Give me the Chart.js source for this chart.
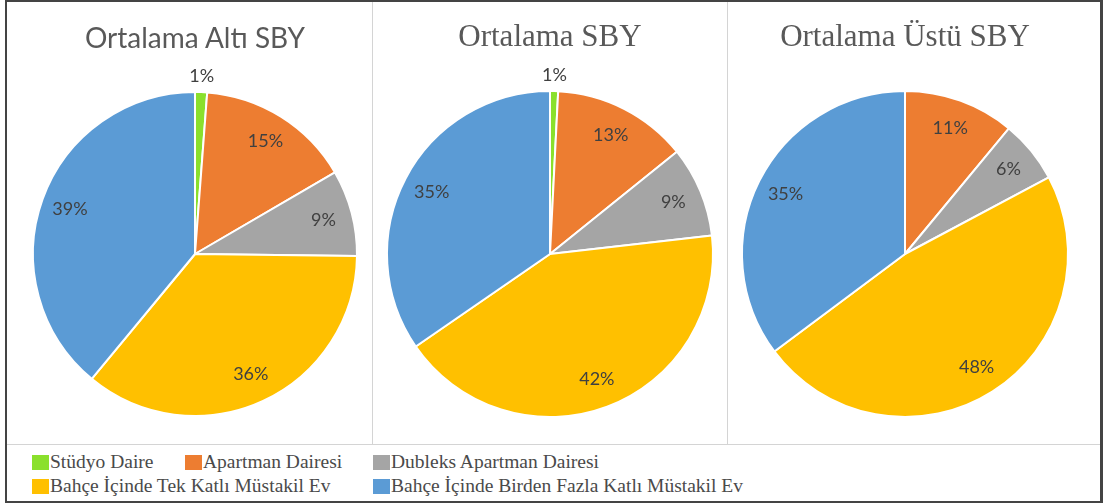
<!DOCTYPE html>
<html>
<head>
<meta charset="utf-8">
<script src="https://cdn.jsdelivr.net/npm/chart.js@4.4.1/dist/chart.umd.min.js"></script>
<style>
  html, body { margin: 0; padding: 0; background: #fff; }
  #page { position: relative; width: 1103px; height: 504px; overflow: hidden; }
  #frame { position: absolute; left: 5px; top: 0; width: 1093px; height: 499px;
    border-top: 2px solid #444; border-left: 2px solid #444; border-right: 3px solid #444; border-bottom: 2px solid #444; }
  .vline { position: absolute; top: 2px; width: 1px; height: 442px; background: #d4d4d4; }
  #hline { position: absolute; left: 7px; top: 444px; width: 1093px; height: 1px; background: #d4d4d4; }
  canvas.pie { position: absolute; }
  .title { position: absolute; top: 0; color: #595959; text-align: center; white-space: nowrap; }
  .legend-item { position: absolute; font-family: "Liberation Serif", "DejaVu Serif", serif; font-size: 19.5px;
    color: #4a4a4a; white-space: nowrap; line-height: 20px; }
  .legend-item i { display: inline-block; width: 17px; height: 15px; vertical-align: -2px; margin-right: 1px; }
</style>
</head>
<body>
<div id="page">
  <div id="frame"></div>
  <div class="vline" style="left:372px"></div>
  <div class="vline" style="left:727px"></div>
  <div id="hline"></div>
  <canvas id="pie1" class="pie"></canvas>
  <canvas id="pie2" class="pie"></canvas>
  <canvas id="pie3" class="pie"></canvas>
  <div id="titles"></div>
  <div id="legend"></div>
</div>
<script>
// categories (clockwise from 12 o'clock)
const categories = [
  'Stüdyo Daire',
  'Apartman Dairesi',
  'Dubleks Apartman Dairesi',
  'Bahçe İçinde Tek Katlı Müstakil Ev',
  'Bahçe İçinde Birden Fazla Katlı Müstakil Ev'
];
const colors = ['#8AE02C', '#ED7D31', '#A5A5A5', '#FFC000', '#5B9BD5'];

const titles = ['Ortalama Altı SBY', 'Ortalama SBY', 'Ortalama Üstü SBY'];

// shares in %
const altiValues  = [1.2, 15.4, 8.6, 35.8, 39.0];
const ortaValues  = [0.8, 13.4, 9.0, 42.2, 34.6];
const ustuValues  = [0.0, 11.0, 6.2, 47.6, 35.2];

// panel geometry: canvas box + pie centre/radius (page px)
const panels = [
  { id: 'pie1', left: 7,   width: 365, cx: 195, cy: 254, r: 162, values: altiValues,
    title: { font: '28px Lato, "Open Sans", sans-serif', baseline: 45 } },
  { id: 'pie2', left: 373, width: 354, cx: 550, cy: 254, r: 163, values: ortaValues,
    title: { font: '31px "Liberation Serif", serif', baseline: 45 } },
  { id: 'pie3', left: 728, width: 372, cx: 905, cy: 254, r: 163, values: ustuValues,
    title: { font: '31px "Liberation Serif", serif', baseline: 45 } }
];
const TOP = 2, HEIGHT = 442;

// percentage labels: inside the slice, tiny slices get pushed outside above
const pctLabels = {
  id: 'pctLabels',
  afterDatasetsDraw(chart) {
    const ctx = chart.ctx;
    const meta = chart.getDatasetMeta(0);
    const data = chart.data.datasets[0].data;
    const total = data.reduce((a, b) => a + b, 0);
    ctx.save();
    ctx.font = '18px Lato, "Open Sans", sans-serif';
    ctx.fillStyle = '#404040';
    ctx.textAlign = 'center';
    ctx.textBaseline = 'middle';
    meta.data.forEach((arc, i) => {
      const v = data[i];
      if (!v) return;
      const pct = v / total * 100;
      const mid = (arc.startAngle + arc.endAngle) / 2;
      const rr = pct < 3 ? arc.outerRadius + 16 : arc.outerRadius * 0.82;
      const x = arc.x + Math.cos(mid) * rr;
      const y = arc.y + Math.sin(mid) * rr;
      ctx.fillText(Math.round(pct) + '%', x, y);
    });
    ctx.restore();
  }
};

panels.forEach(p => {
  const canvas = document.getElementById(p.id);
  canvas.style.left = p.left + 'px';
  canvas.style.top = TOP + 'px';
  canvas.style.width = p.width + 'px';
  canvas.style.height = HEIGHT + 'px';
  canvas.width = p.width;
  canvas.height = HEIGHT;
  const r = p.r + 1; // chart.js trims half the border width
  new Chart(canvas, {
    type: 'pie',
    data: {
      labels: categories,
      datasets: [{ data: p.values, backgroundColor: colors, borderColor: '#fff', borderWidth: 2 }]
    },
    options: {
      responsive: false,
      animation: false,
      layout: { padding: {
        left: p.cx - r - p.left,
        right: p.left + p.width - p.cx - r,
        top: p.cy - r - TOP,
        bottom: TOP + HEIGHT - p.cy - r
      }},
      plugins: { legend: { display: false }, tooltip: { enabled: false } }
    },
    plugins: [pctLabels]
  });
});

// chart titles
const titleBox = document.getElementById('titles');
panels.forEach((p, i) => {
  const d = document.createElement('div');
  d.className = 'title';
  d.textContent = titles[i];
  d.style.font = p.title.font;
  d.style.left = (p.cx - 200) + 'px';
  d.style.width = '400px';
  d.style.lineHeight = '1';
  titleBox.appendChild(d);
  // align baseline roughly
  d.style.top = (p.title.baseline - d.offsetHeight * 0.8) + 'px';
});

// legend (two rows, as in the source)
const legendPos = [
  { left: 32,  top: 452 },
  { left: 185, top: 452 },
  { left: 373, top: 452 },
  { left: 32,  top: 476 },
  { left: 373, top: 476 }
];
const legend = document.getElementById('legend');
categories.forEach((c, i) => {
  const d = document.createElement('div');
  d.className = 'legend-item';
  d.style.left = legendPos[i].left + 'px';
  d.style.top = legendPos[i].top + 'px';
  const sw = document.createElement('i');
  sw.style.background = colors[i];
  d.appendChild(sw);
  d.appendChild(document.createTextNode(c));
  legend.appendChild(d);
});
</script>
</body>
</html>
